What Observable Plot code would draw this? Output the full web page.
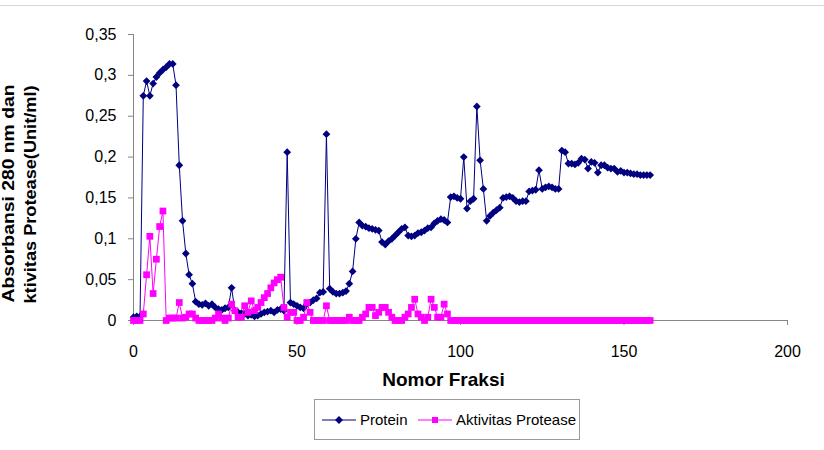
<!DOCTYPE html>
<html><head><meta charset="utf-8">
<script src="https://cdn.jsdelivr.net/npm/d3@7"></script>
<script src="https://cdn.jsdelivr.net/npm/@observablehq/plot@0.6"></script>
<style>
body{margin:0;background:#fff;font-family:"Liberation Sans",Arial,sans-serif}
#wrap{position:relative;width:824px;height:450px;overflow:hidden;background:#fff}
#frame{position:absolute;left:0;top:5px;width:824px;height:0;border-top:1px solid #d6d6d6;pointer-events:none}
#legend{position:absolute;left:314px;top:399px;width:266px;height:41px;border:1px solid #9a9a9a;box-sizing:border-box;background:#fff;font-size:15px;color:#000}
#legend .it{position:absolute;top:0;height:39px;display:flex;align-items:center}
#legend svg{display:block;margin-right:4px}
</style></head><body><div id="wrap"><div id="frame"></div></div>
<script>
// Protein (absorbansi 280 nm) per fraksi 0..158
const protein = [
0.004,0.005,0.005,0.275,0.293,0.275,0.29,0.298,0.303,0.307,
0.31,0.314,0.314,0.288,0.19,0.122,0.082,0.056,0.045,0.023,
0.02,0.019,0.021,0.018,0.02,0.016,0.014,0.013,0.015,0.016,
0.04,0.012,0.01,0.009,0.008,0.006,0.007,0.005,0.006,0.008,
0.01,0.011,0.012,0.01,0.013,0.014,0.012,0.206,0.022,0.02,
0.018,0.016,0.015,0.02,0.022,0.025,0.027,0.034,0.035,0.228,
0.039,0.035,0.033,0.033,0.034,0.036,0.045,0.06,0.1,0.12,
0.116,0.115,0.113,0.112,0.111,0.11,0.096,0.093,0.097,0.1,
0.104,0.108,0.112,0.114,0.104,0.103,0.104,0.107,0.108,0.11,
0.113,0.114,0.119,0.122,0.124,0.123,0.12,0.151,0.152,0.15,
0.149,0.2,0.137,0.146,0.149,0.262,0.196,0.161,0.122,0.128,
0.132,0.135,0.138,0.15,0.151,0.152,0.15,0.146,0.145,0.146,
0.146,0.158,0.159,0.16,0.184,0.161,0.163,0.164,0.163,0.161,
0.161,0.208,0.206,0.192,0.192,0.191,0.193,0.198,0.197,0.186,
0.194,0.193,0.181,0.19,0.19,0.187,0.186,0.186,0.182,0.183,
0.181,0.181,0.18,0.179,0.179,0.178,0.178,0.178,0.178
];
// Aktivitas protease (Unit/ml) per fraksi 0..158
const protease = [
0,0,0,0.008,0.056,0.103,0.033,0.075,0.115,0.134,
0,0.003,0.003,0.003,0.022,0.003,0.004,0.008,0.008,0.003,
0,0,0,0,0,0.003,0.008,0.003,0,0.003,
0.02,0.012,0.004,0.004,0.018,0.01,0.024,0.012,0.016,0.022,
0.028,0.033,0.04,0.046,0.05,0.053,0.016,0.004,0.01,0.01,
0,0,0.004,0.022,0.01,0,0,0,0,0.018,
0,0,0,0,0,0,0.004,0,0,0,
0.004,0.008,0.016,0.016,0.006,0.01,0.016,0.016,0.01,0.004,
0,0,0,0.004,0.008,0.016,0.026,0.008,0.004,0,
0.004,0.026,0.016,0.004,0.004,0.02,0.008,0,0,0,
0,0,0,0,0,0,0,0,0,0,
0,0,0,0,0,0,0,0,0,0,
0,0,0,0,0,0,0,0,0,0,
0,0,0,0,0,0,0,0,0,0,
0,0,0,0,0,0,0,0,0,0,
0,0,0,0,0,0,0,0,0
];
const fraksi = protein.map((_, i) => i);
const xTicks = [0, 50, 100, 150, 200];
const yTicks = [0, 0.05, 0.1, 0.15, 0.2, 0.25, 0.3, 0.35];
const yTickLabels = ["0", "0,05", "0,1", "0,15", "0,2", "0,25", "0,3", "0,35"];
const xTitle = "Nomor Fraksi";
const yTitle1 = "Absorbansi 280 nm dan";
const yTitle2 = "ktivitas Protease(Unit/ml)";
const seriesNames = ["Protein", "Aktivitas Protease"];
const colors = ["#000080", "#FF00FF"];

const rows = fraksi.map((f, i) => ({f, p: protein[i], a: protease[i]}));
const axisGray = "#868686";

const chart = Plot.plot({
  width: 824, height: 450,
  marginLeft: 133, marginRight: 37, marginTop: 34, marginBottom: 130,
  style: {fontFamily: "'Liberation Sans', Arial, sans-serif", fontSize: "16px", color: "#000", background: "transparent", overflow: "visible"},
  x: {domain: [0, 200]},
  y: {domain: [0, 0.35]},
  marks: [
    Plot.axisX({ticks: xTicks, tickSize: 5, tickPadding: 20, stroke: axisGray, label: null, tickFormat: d => String(d), fontSize: 16}),
    Plot.axisY({ticks: yTicks, tickSize: 5, tickPadding: 12, stroke: axisGray, label: null, tickFormat: d => yTickLabels[yTicks.indexOf(d)], fontSize: 16}),
    Plot.ruleY([0], {stroke: axisGray}),
    Plot.ruleX([0], {stroke: axisGray}),
    Plot.line(rows, {x: "f", y: "p", stroke: colors[0], strokeWidth: 1}),
    Plot.dot(rows, {x: "f", y: "p", symbol: "diamond2", r: 3.5, fill: colors[0], stroke: "none"}),
    Plot.line(rows, {x: "f", y: "a", stroke: colors[1], strokeWidth: 1}),
    Plot.dot(rows, {x: "f", y: "a", symbol: "square", r: 3.8, fill: colors[1], stroke: "none"}),
    Plot.text([xTitle], {frameAnchor: "bottom", text: d => d, dx: -17, dy: 65, fontWeight: "bold", fontSize: 19}),
    Plot.text([yTitle2], {frameAnchor: "bottom-left", text: d => d, rotate: -90, textAnchor: "start", dx: -98, dy: -17, fontWeight: "bold", fontSize: 16}),
    Plot.text([yTitle1], {frameAnchor: "bottom-left", text: d => d, rotate: -90, textAnchor: "start", dx: -120, dy: -18, fontWeight: "bold", fontSize: 16})
  ]
});
// stretch the rotated axis-title lines to the span they occupy in the reference
d3.select(chart).selectAll("text").each(function () {
  const t = this.textContent;
  if (t === yTitle1 || t === yTitle2) {
    this.setAttribute("textLength", 218);
    this.setAttribute("lengthAdjust", "spacingAndGlyphs");
  }
});
document.getElementById("wrap").appendChild(chart);

// legend
const lg = document.createElement("div");
lg.id = "legend";
const sym = (i) => i === 0
  ? `<svg width="34" height="10"><line x1="0" x2="34" y1="5" y2="5" stroke="${colors[0]}" stroke-width="1.2"/><path d="M17,1 L21,5 L17,9 L13,5Z" fill="${colors[0]}"/></svg>`
  : `<svg width="34" height="10"><line x1="0" x2="34" y1="5" y2="5" stroke="${colors[1]}" stroke-width="1.2"/><rect x="14" y="2" width="6" height="6" fill="${colors[1]}"/></svg>`;
lg.innerHTML = `<div class="it" style="left:7px">${sym(0)}<span>${seriesNames[0]}</span></div>` +
               `<div class="it" style="left:103px">${sym(1)}<span>${seriesNames[1]}</span></div>`;
document.getElementById("wrap").appendChild(lg);
</script></body></html>
